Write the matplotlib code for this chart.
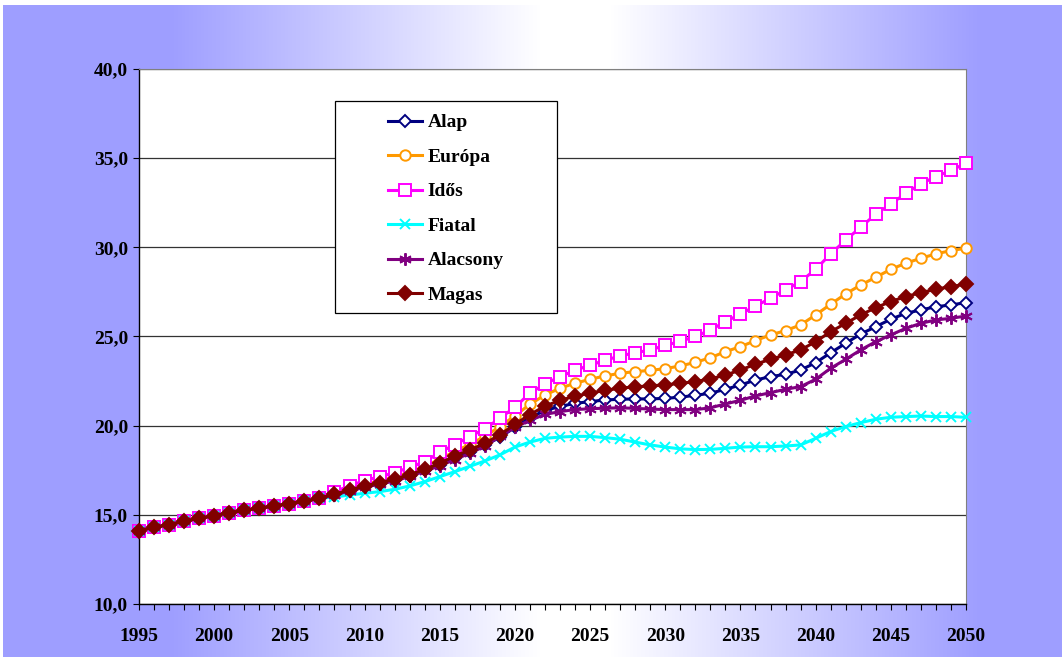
import numpy as np
import matplotlib
matplotlib.use("Agg")
import matplotlib.pyplot as plt
from matplotlib.patches import Rectangle
from matplotlib.ticker import FuncFormatter, MultipleLocator

years = list(range(1995, 2051))

# 1995-2007, all scenarios identical
shared = [14.11, 14.30, 14.45, 14.64, 14.81, 14.95, 15.12, 15.25, 15.37, 15.50,
          15.63, 15.76, 15.93]

# 2008-2050
alap = shared + [16.10, 16.35,
    16.55, 16.75, 16.95, 17.20, 17.50, 17.80, 18.20, 18.55, 18.90, 19.35,
    19.90, 20.45, 20.85, 21.08, 21.25, 21.35, 21.44, 21.48, 21.50, 21.50,
    21.53, 21.60, 21.70, 21.82, 22.04, 22.28, 22.56, 22.75, 22.88, 23.12,
    23.53, 24.09, 24.62, 25.14, 25.55, 25.97, 26.30, 26.49, 26.67, 26.77,
    26.90]
europa = shared + [16.20, 16.45,
    16.70, 16.92, 17.12, 17.40, 17.72, 18.12, 18.55, 18.95, 19.40, 19.95,
    20.55, 21.20, 21.72, 22.10, 22.38, 22.60, 22.79, 22.94, 23.03, 23.10,
    23.20, 23.35, 23.55, 23.81, 24.15, 24.43, 24.77, 25.09, 25.33, 25.65,
    26.21, 26.81, 27.39, 27.89, 28.32, 28.77, 29.11, 29.39, 29.63, 29.82,
    29.95]
idos = shared + [16.30, 16.62,
    16.92, 17.14, 17.36, 17.66, 17.98, 18.50, 18.94, 19.38, 19.83, 20.41,
    21.04, 21.82, 22.34, 22.75, 23.10, 23.40, 23.66, 23.92, 24.08, 24.25,
    24.50, 24.73, 25.00, 25.37, 25.83, 26.26, 26.71, 27.14, 27.61, 28.08,
    28.77, 29.63, 30.41, 31.13, 31.86, 32.43, 33.03, 33.56, 33.97, 34.31,
    34.72]
fiatal = shared + [16.00, 16.11,
    16.21, 16.30, 16.43, 16.62, 16.86, 17.14, 17.42, 17.72, 18.02, 18.36,
    18.80, 19.08, 19.29, 19.36, 19.40, 19.40, 19.33, 19.24, 19.08, 18.92,
    18.80, 18.70, 18.66, 18.67, 18.73, 18.80, 18.82, 18.82, 18.86, 18.92,
    19.29, 19.67, 19.95, 20.17, 20.36, 20.47, 20.51, 20.54, 20.51, 20.51,
    20.47]
alacsony = shared + [16.10, 16.35,
    16.55, 16.72, 16.90, 17.15, 17.45, 17.75, 18.10, 18.45, 18.85, 19.40,
    19.90, 20.30, 20.63, 20.79, 20.90, 20.95, 20.98, 21.00, 20.97, 20.93,
    20.90, 20.90, 20.90, 21.00, 21.22, 21.42, 21.67, 21.85, 22.04, 22.19,
    22.60, 23.22, 23.72, 24.25, 24.71, 25.09, 25.46, 25.74, 25.93, 26.02,
    26.15]
magas = shared + [16.15, 16.39,
    16.62, 16.80, 17.00, 17.25, 17.55, 17.89, 18.30, 18.64, 19.01, 19.48,
    20.08, 20.62, 21.10, 21.42, 21.65, 21.83, 21.98, 22.10, 22.18, 22.23,
    22.29, 22.37, 22.47, 22.62, 22.84, 23.12, 23.45, 23.72, 23.97, 24.25,
    24.71, 25.27, 25.74, 26.21, 26.62, 26.96, 27.24, 27.46, 27.65, 27.80,
    27.93]

labels = ["Alap", "Európa", "Idős", "Fiatal", "Alacsony", "Magas"]
series = [alap, europa, idos, fiatal, alacsony, magas]
colors = ["#000080", "#FF9900", "#FF00FF", "#00FFFF", "#800080", "#800000"]
markers = ["D", "o", "s", "x", (6, 2, 0), "D"]
msizes = [6, 7.5, 8, 7.5, 9, 7]
faces = ["white", "white", "white", "none", "none", "#800000"]

plt.rcParams['font.family'] = ['Liberation Serif', 'DejaVu Serif']
plt.rcParams['font.weight'] = 'bold'

fig = plt.figure(figsize=(10.62, 6.59), dpi=100)

# gradient background
bg = fig.add_axes([0, 0, 1, 1], zorder=-10)
W, H = 1062, 659
xs = np.arange(W)
t = np.interp(xs, [0, 170, 540, 610, 980, W], [1, 1, 0, 0, 1, 1])
lav = np.array([0.62, 0.62, 1.0])
row = (1 - t)[:, None] * np.ones(3) + t[:, None] * lav
img = np.tile(row[None, :, :], (H, 1, 1))
img[:5, :, :] = 1.0
img[657:, :, :] = 1.0
img[:, :3, :] = 1.0
bg.imshow(img, aspect='auto', extent=[0, W, H, 0])
bg.axis('off')

ax = fig.add_axes([139 / W, 1 - 604 / H, (966 - 139) / W, (604 - 69) / H])
ax.set_facecolor('white')

for s, lab, c, m, ms, fc in zip(series, labels, colors, markers, msizes, faces):
    ax.plot(years, s, color=c, lw=2.2, marker=m, ms=ms, mfc=fc, mec=c,
            mew=1.4, label=lab, clip_on=False, zorder=3)

ax.set_xlim(1995, 2050)
ax.set_ylim(10, 40)
ax.yaxis.set_major_locator(MultipleLocator(5))
ax.yaxis.set_major_formatter(FuncFormatter(lambda v, p: f"{v:.1f}".replace(".", ",")))
ax.xaxis.set_major_locator(MultipleLocator(5))
ax.xaxis.set_minor_locator(MultipleLocator(1))
ax.grid(axis='y', color='#333333', lw=0.9, zorder=1)
ax.set_axisbelow(True)

ax.tick_params(axis='y', length=4, width=0.8, pad=4, labelsize=14)
ax.tick_params(axis='x', which='major', length=4, width=0.8, pad=13, labelsize=14)
ax.tick_params(axis='x', which='minor', length=4, width=0.8)
for sp in ['top', 'right']:
    ax.spines[sp].set_color('#808080')
for sp in ['left', 'bottom']:
    ax.spines[sp].set_color('black')
    ax.spines[sp].set_linewidth(1.0)

# legend box
box = Rectangle((335 / W, 1 - 313 / H), 222 / W, 212 / H, transform=fig.transFigure,
                facecolor='white', edgecolor='black', lw=0.9, zorder=5, clip_on=False)
ax.add_patch(box)
leg = ax.legend(loc='upper left', bbox_to_anchor=(378 / W, 1 - 104 / H),
                bbox_transform=fig.transFigure, frameon=False, borderpad=0,
                handlelength=1.75, handletextpad=0.3, labelspacing=0.87,
                prop={'size': 14, 'weight': 'bold'})
leg.set_zorder(6)

fig.savefig("out.png", dpi=100)
